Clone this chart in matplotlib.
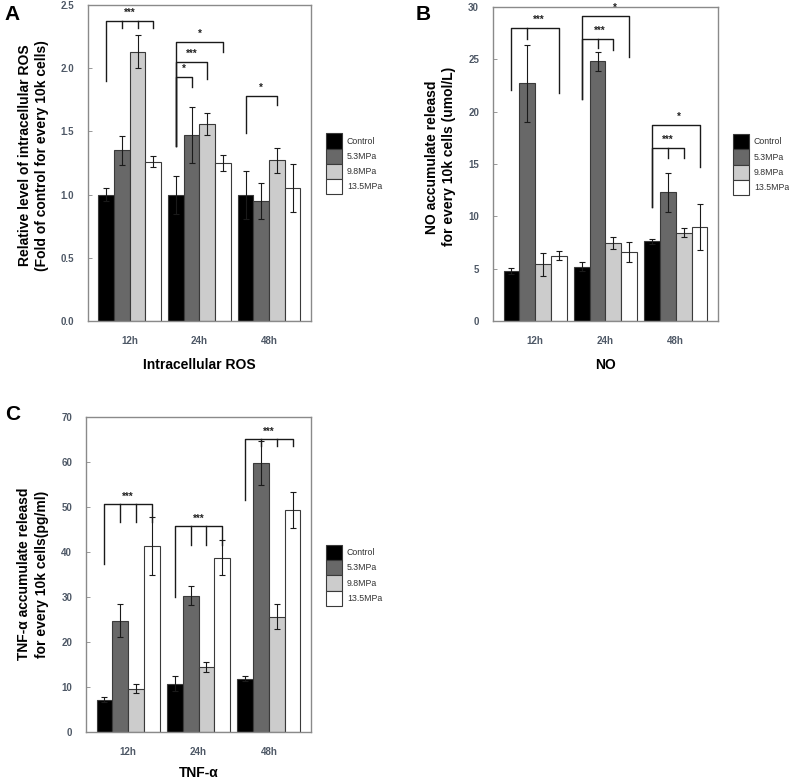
import matplotlib
matplotlib.use('Agg')
import matplotlib.pyplot as plt
import numpy as np

plt.rcParams['font.family'] = ['Liberation Sans', 'DejaVu Sans']

# data
times = ['12h', '24h', '48h']
groups = ['Control', '5.3MPa', '9.8MPa', '13.5MPa']
colors = ['#000000', '#686868', '#cccccc', '#ffffff']

ros_mean = [[1.00, 1.00, 1.00],
            [1.35, 1.47, 0.95],
            [2.13, 1.56, 1.27],
            [1.26, 1.25, 1.05]]
ros_err = [[0.05, 0.15, 0.19],
           [0.115, 0.22, 0.14],
           [0.13, 0.085, 0.10],
           [0.045, 0.06, 0.19]]

no_mean = [[4.8, 5.2, 7.6],
           [22.7, 24.8, 12.3],
           [5.4, 7.45, 8.45],
           [6.25, 6.6, 9.0]]
no_err = [[0.3, 0.45, 0.25],
          [3.7, 0.9, 1.85],
          [1.1, 0.62, 0.4],
          [0.42, 0.93, 2.2]]

tnf_mean = [[7.1, 10.7, 11.8],
            [24.7, 30.2, 59.8],
            [9.6, 14.4, 25.6],
            [41.3, 38.7, 49.2]]
tnf_err = [[0.6, 1.7, 0.5],
           [3.6, 2.1, 4.9],
           [0.9, 1.1, 2.8],
           [6.4, 3.9, 4.0]]

# brackets: (time index, last bar, top, left drop, right drop, tick drop, label, label x shift)
ros_sig = [(0, 3, 2.375, 1.90, 2.315, 2.315, '***', 0.0),
           (1, 3, 2.21, 1.386, 2.13, None, '*', 0.0),
           (1, 2, 2.052, 1.386, 1.912, None, '***', 0.0),
           (1, 1, 1.928, 1.386, 1.848, None, '*', 0.0),
           (2, 2, 1.782, 1.484, 1.709, None, '*', 0.0)]
no_sig = [(0, 3, 27.95, 22.05, 21.8, [(1, 26.9)], '***', 0.05),
          (1, 3, 29.1, 21.2, 25.2, [], '*', 0.13),
          (1, 2, 26.9, 21.2, 25.9, [(1, 26.1)], '***', 0.03),
          (2, 3, 18.7, 10.9, 14.7, [], '*', 0.05),
          (2, 2, 16.5, 10.9, 15.6, [(1, 15.6)], '***', 0.0)]
tnf_sig = [(0, 3, 50.7, 37.3, 46.7, 46.7, '***', 0.0),
           (1, 3, 45.8, 29.9, 41.6, 41.6, '***', 0.0),
           (2, 3, 65.0, 51.4, 63.5, 63.5, '***', 0.0)]

bw = 0.225
offs = (np.arange(4) - 1.5) * bw
x = np.arange(len(times))
tick_col = '#4e5866'
line_col = '#1a1a1a'

fig = plt.figure(figsize=(7.89, 7.84), dpi=100)


def xpos(t, b):
    return x[t] + offs[b]


def panel(rect, means, errs, ylim, yticks, yfmt, ylabel, xlabel, sig, star_dy,
          letter, letter_xy, leg_xy, ylab_x, ylab_y, xlab_y=-0.14):
    ax = fig.add_axes(rect)
    for i in range(4):
        ax.bar(x + offs[i], means[i], bw, color=colors[i], edgecolor='#3a3a3a',
               linewidth=0.8, label=groups[i], zorder=2)
        ax.errorbar(x + offs[i], means[i], yerr=errs[i], fmt='none',
                    ecolor=line_col, elinewidth=0.8, capsize=2.2, capthick=0.8, zorder=3)
    ax.set_xlim(-0.6, 2.6)
    ax.set_ylim(*ylim)
    ax.set_yticks(yticks)
    ax.set_yticklabels([yfmt.format(v) for v in yticks])
    ax.set_xticks(x)
    ax.set_xticklabels(times)
    ax.tick_params(axis='y', direction='in', length=3, width=0.6, color='#888888',
                   pad=10, labelsize=7, labelcolor=tick_col)
    ax.tick_params(axis='x', length=0, pad=11, labelsize=7, labelcolor=tick_col)
    for lab in ax.get_xticklabels() + ax.get_yticklabels():
        lab.set_fontweight('bold')
    for s in ax.spines.values():
        s.set_color('#8a8a8a')
        s.set_linewidth(1.0)
    ax.text(ylab_x, ylab_y, ylabel, transform=ax.transAxes, rotation=90,
            ha='center', va='center', multialignment='center',
            fontsize=10, fontweight='bold', linespacing=1.3)
    ax.text(0.5, xlab_y, xlabel, transform=ax.transAxes, ha='center', va='center',
            fontsize=10, fontweight='bold')
    fig.text(letter_xy[0], letter_xy[1], letter, fontsize=15, fontweight='bold',
             ha='left', va='center')

    for t, last, top, ldrop, rdrop, ticks, lab, dx in sig:
        x0 = xpos(t, 0)
        x1 = xpos(t, last)
        ax.plot([x0, x0, x1, x1], [ldrop, top, top, rdrop], color=line_col,
                lw=1.0, clip_on=False, zorder=4)
        if ticks is None:
            tk = []
        elif isinstance(ticks, list):
            tk = ticks
        else:
            tk = [(b, ticks) for b in range(1, last)]
        for b, yb in tk:
            ax.plot([xpos(t, b)] * 2, [top, yb], color=line_col, lw=1.0,
                    clip_on=False, zorder=4)
        ax.text((x0 + x1) / 2 + dx, top + star_dy, lab, ha='center', va='center',
                fontsize=7, fontweight='bold', color='#222222', clip_on=False)

    ax.legend(loc='upper left', bbox_to_anchor=leg_xy, bbox_transform=fig.transFigure,
              frameon=False, fontsize=6.3, handlelength=1.85, handleheight=2.3,
              labelspacing=0.0, handletextpad=0.55, borderpad=0, borderaxespad=0,
              labelcolor='#333333')
    return ax


panel([0.1115, 0.5906, 0.2826, 0.403], ros_mean, ros_err, (0, 2.5),
      [0, 0.5, 1.0, 1.5, 2.0, 2.5], '{:.1f}',
      'Relative level of intracellular ROS\n(Fold of control for every 10k cells)',
      'Intracellular ROS', ros_sig, 0.065, 'A', (0.006, 0.981),
      (0.413, 0.830), -0.245, 0.525)

panel([0.6248, 0.5906, 0.2852, 0.4005], no_mean, no_err, (0, 30),
      [0, 5, 10, 15, 20, 25, 30], '{:d}',
      'NO accumulate releasd\nfor every 10k cells (umol/L)',
      'NO', no_sig, 0.8, 'B', (0.527, 0.981),
      (0.929, 0.829), -0.233, 0.523)

panel([0.109, 0.0667, 0.2852, 0.4018], tnf_mean, tnf_err, (0, 70),
      [0, 10, 20, 30, 40, 50, 60, 70], '{:d}',
      'TNF-\u03b1 accumulate releasd\nfor every 10k cells(pg/ml)',
      'TNF-\u03b1', tnf_sig, 1.6, 'C', (0.006, 0.471),
      (0.413, 0.305), -0.235, 0.5, xlab_y=-0.13)

fig.savefig('out.png', dpi=100)
